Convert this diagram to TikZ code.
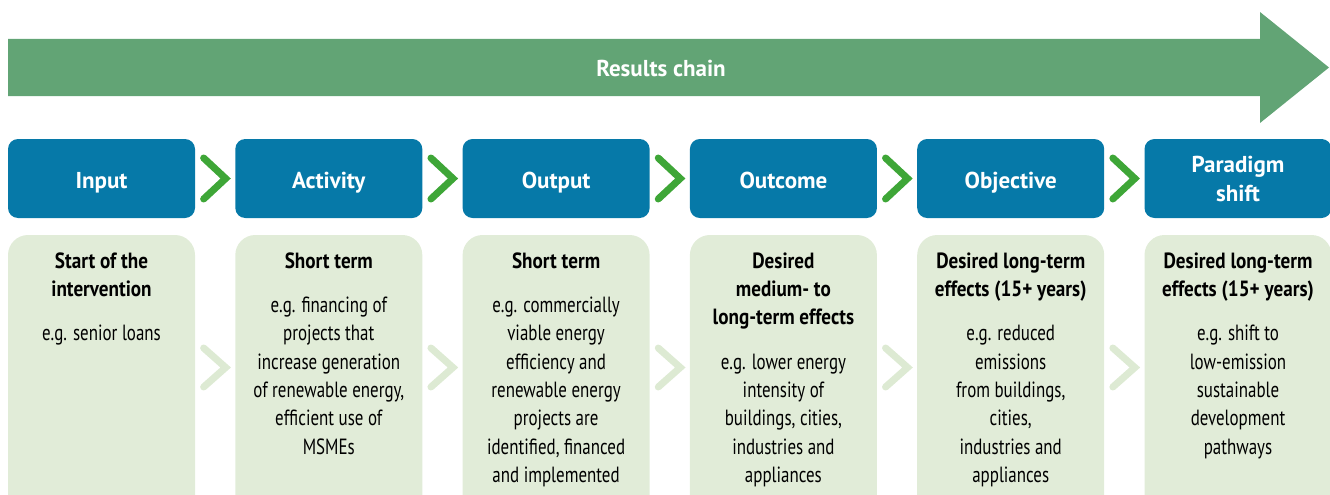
\documentclass[tikz,border=0pt]{standalone}
\usepackage{fontspec}
\setmainfont{PT Sans}
\newfontfamily\condfont[FakeStretch=0.77]{PT Sans}
\newfontfamily\titlefont[FakeStretch=0.87]{PT Sans Bold}
\usetikzlibrary{calc}
\definecolor{arrowgreen}{HTML}{62A475}
\definecolor{chainblue}{HTML}{0679A8}
\definecolor{paleback}{HTML}{E1ECD8}
\definecolor{chevgreen}{HTML}{3EA637}
\definecolor{chevpale}{HTML}{DDEAD3}
\newcommand\ttl[1]{{\titlefont #1}}
\begin{document}
\begin{tikzpicture}[x=1pt,y=-1pt,
  headbox/.style={fill=chainblue, rounded corners=10pt, minimum width=187pt, minimum height=79pt,
    text=white, font=\fontsize{23}{29}\selectfont\bfseries, align=center, inner sep=0pt},
  oneline/.style={text height=24pt, text depth=5pt},
  detailbox/.style={fill=paleback, rounded corners=20pt, minimum width=187pt, minimum height=305pt, inner sep=0pt},
  detailtxt/.style={anchor=north, align=center, font=\condfont\fontsize{22}{28.3}\selectfont, inner sep=0pt},
  chev/.style={line width=7pt, line cap=round, line join=miter},
  strongchev/.style={chev, draw=chevgreen},
  softchev/.style={chev, draw=chevpale},
]
\useasboundingbox (0,0) rectangle (1330,495);
\clip (0,0) rectangle (1330,495);

% big arrow
\fill[arrowgreen] (8,39) -- (1260,39) -- (1260,12) -- (1329,67.5) -- (1260,123) -- (1260,96) -- (8,96) -- cycle;
\node[text=white, font=\fontsize{23}{26}\selectfont\bfseries, anchor=base] (chain) at (661,76) {Results chain};

% header boxes
\foreach \i/\cx/\lab in {1/101.5/Input, 2/328.8/Activity, 3/556.1/Output, 4/783.4/Outcome, 5/1010.7/Objective}{
  \node[headbox, oneline] (h\i) at (\cx,178.5) {\lab};
  \node[detailbox] (d\i) at (\cx,387.5) {};
}
\node[headbox] (h6) at (1238,178.5) {\rule{0pt}{19pt}Paradigm\\shift\rule[-3pt]{0pt}{3pt}};
\node[detailbox] (d6) at (1238,387.5) {};

% chevrons
\foreach \a/\b in {1/2,2/3,3/4,4/5,5/6}{
  \coordinate (m\a) at ($(h\a.east)!0.5!(h\b.west)$);
  \draw[strongchev] ([shift={(-11.5,-20.5)}]m\a) -- ([shift={(10.5,0)}]m\a) -- ([shift={(-11.5,20.5)}]m\a);
  \coordinate (n\a) at ($(h\a.east)!0.5!(h\b.west) + (0,189)$);
  \draw[softchev] ([shift={(-11.5,-19.5)}]n\a) -- ([shift={(10.5,0)}]n\a) -- ([shift={(-11.5,19.5)}]n\a);
}

% detail texts
\node[detailtxt] (t1) at (101.5,248) {\rule{0pt}{20pt}\ttl{Start of the}\\\ttl{intervention}\\[16pt]e.g. senior loans};
\node[detailtxt] (t2) at (328.8,248) {\rule{0pt}{20pt}\ttl{Short term}\\[16pt]e.g. financing of\\projects that\\increase generation\\of renewable energy,\\efficient use of\\MSMEs};
\node[detailtxt] (t3) at (556.1,248) {\rule{0pt}{20pt}\ttl{Short term}\\[16pt]e.g. commercially\\viable energy\\efficiency and\\renewable energy\\projects are\\identified, financed\\and implemented};
\node[detailtxt] (t4) at (783.4,248) {\rule{0pt}{20pt}\ttl{Desired}\\\ttl{medium- to}\\\ttl{long-term effects}\\[16pt]e.g. lower energy\\intensity of\\buildings, cities,\\industries and\\appliances};
\node[detailtxt] (t5) at (1010.7,248) {\rule{0pt}{20pt}\ttl{Desired long-term}\\\ttl{effects (15+ years)}\\[16pt]e.g. reduced\\emissions\\from buildings,\\cities,\\industries and\\appliances};
\node[detailtxt] (t6) at (1238,248) {\rule{0pt}{20pt}\ttl{Desired long-term}\\\ttl{effects (15+ years)}\\[16pt]e.g. shift to\\low-emission\\sustainable\\development\\pathways};
\end{tikzpicture}
\end{document}
